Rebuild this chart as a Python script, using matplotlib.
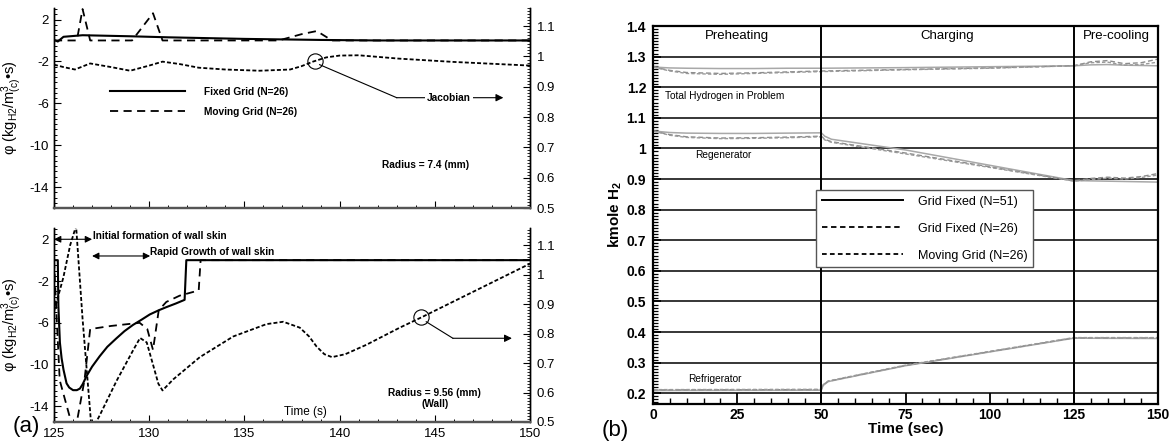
import numpy as np
import matplotlib
matplotlib.use('Agg')
import matplotlib.pyplot as plt
from matplotlib.lines import Line2D
from matplotlib.ticker import MultipleLocator, FixedLocator, FuncFormatter

plt.rcParams['font.family'] = ['Liberation Sans', 'DejaVu Sans']
plt.rcParams['mathtext.fontset'] = 'custom'
plt.rcParams['mathtext.rm'] = 'Liberation Sans'
plt.rcParams['mathtext.it'] = 'Liberation Sans:italic'
plt.rcParams['mathtext.bf'] = 'Liberation Sans:bold'
plt.rcParams['axes.unicode_minus'] = False

# ---------------- data: panel (a) top, radius 7.4 mm ----------------
top_t_fixed = [125, 125.2, 125.5, 126.5, 129, 131, 135, 139, 142, 150]
top_phi_fixed = [0.05, -0.1, 0.35, 0.5, 0.4, 0.3, 0.15, 0.05, 0.0, 0.0]
top_t_moving = [125, 126.2, 126.5, 126.9, 129.1, 130.2, 130.7, 136.8, 138.0, 138.8, 139.6, 150]
top_phi_moving = [0, 0, 3.0, 0, 0, 2.6, 0, 0, 0.6, 0.9, 0, 0]
top_t_jac = [125, 125.5, 126.1, 126.9, 128.0, 129.0, 130.0, 130.7, 131.6, 132.6, 134.0,
             135.8, 137.4, 138.0, 138.6, 139.3, 140.0, 141.0, 143.1, 146.0, 150]
top_jac = [0.973, 0.965, 0.957, 0.977, 0.965, 0.953, 0.970, 0.983, 0.975, 0.963, 0.957,
           0.953, 0.957, 0.968, 0.983, 0.997, 1.003, 1.004, 0.993, 0.982, 0.970]

# ---------------- data: panel (a) bottom, radius 9.56 mm (wall) ----------------
bot_t_fixed = [125, 125.2, 125.23, 125.31, 125.4, 125.5, 125.66, 125.8, 126.0, 126.2,
               126.36, 126.5, 126.71, 127.0, 127.4, 127.8, 128.27, 128.7, 129.15, 129.6,
               130.03, 130.5, 130.9, 131.4, 131.86, 131.95, 150]
bot_phi_fixed = [0, 0, -4.4, -7.9, -9.4, -10.5, -11.8, -12.2, -12.45, -12.45,
                 -12.3, -11.9, -11.1, -10.2, -9.2, -8.3, -7.5, -6.8, -6.2, -5.7,
                 -5.2, -4.8, -4.5, -4.15, -3.8, 0, 0]
bot_t_moving = [125, 125.1, 125.3, 125.9, 126.05, 126.2, 126.6, 126.9, 128.0, 129.5, 129.9,
                130.2, 130.5, 130.9, 131.6, 132.6, 132.7, 150]
bot_phi_moving = [0, -4, -11.5, -15.5, -16.5, -15.5, -11.5, -6.6, -6.3, -6.0, -6.6,
                  -8.6, -4.8, -4.0, -3.4, -2.9, 0, 0]
bot_t_jac = [125.0, 125.49, 125.85, 126.16, 126.5, 126.98, 127.42, 128.29, 129.17, 129.52,
             129.87, 130.22, 130.48, 130.7, 131.27, 132.66, 134.41, 136.16, 137.04, 137.91,
             138.4, 138.79, 139.2, 139.6, 140.3, 141.41, 143.16, 144.3, 150]
bot_jac = [0.875, 0.99, 1.10, 1.165, 0.85, 0.47, 0.525, 0.64, 0.745, 0.785,
           0.77, 0.69, 0.63, 0.607, 0.645, 0.72, 0.79, 0.832, 0.84, 0.82,
           0.79, 0.756, 0.73, 0.72, 0.73, 0.762, 0.82, 0.855, 1.037]

a_xticks = [125, 130, 135, 140, 145, 150]
a_yticks_left = [-14, -10, -6, -2, 2]
a_yticks_right = [0.5, 0.6, 0.7, 0.8, 0.9, 1.0, 1.1]

# ---------------- data: panel (b) ----------------
th_t = [0, 5, 10, 20, 30, 40, 50, 75, 100, 125, 130, 135, 140, 145, 150]
th_fixed51 = [1.266, 1.263, 1.262, 1.261, 1.261, 1.262, 1.262, 1.264, 1.267, 1.270,
              1.273, 1.274, 1.272, 1.271, 1.270]
th_fixed26 = [1.266, 1.255, 1.248, 1.245, 1.247, 1.250, 1.253, 1.258, 1.263, 1.270,
              1.283, 1.287, 1.277, 1.280, 1.292]
th_moving26 = [1.266, 1.253, 1.245, 1.242, 1.245, 1.248, 1.251, 1.257, 1.262, 1.270,
               1.280, 1.282, 1.272, 1.274, 1.282]

reg_t = [0, 5, 10, 20, 30, 40, 50, 51, 53, 75, 100, 125, 130, 135, 140, 145, 150]
reg_fixed51 = [1.057, 1.052, 1.050, 1.049, 1.049, 1.050, 1.051, 1.040, 1.030, 0.995,
               0.945, 0.895, 0.894, 0.893, 0.892, 0.891, 0.890]
reg_fixed26 = [1.057, 1.045, 1.038, 1.034, 1.035, 1.037, 1.040, 1.030, 1.022, 0.985,
               0.940, 0.894, 0.902, 0.906, 0.903, 0.908, 0.918]
reg_moving26 = [1.057, 1.043, 1.036, 1.032, 1.033, 1.035, 1.038, 1.028, 1.020, 0.982,
                0.938, 0.893, 0.898, 0.903, 0.900, 0.905, 0.913]

ref_t = [0, 50, 50.5, 52, 55, 75, 100, 125, 150]
ref_fixed51 = [0.209, 0.210, 0.225, 0.238, 0.245, 0.290, 0.335, 0.380, 0.379]
ref_fixed26 = [0.211, 0.212, 0.227, 0.239, 0.246, 0.291, 0.336, 0.381, 0.381]
ref_moving26 = [0.212, 0.213, 0.228, 0.240, 0.247, 0.292, 0.337, 0.382, 0.382]

b_xticks = [0, 25, 50, 75, 100, 125, 150]
b_yticks = [0.2, 0.3, 0.4, 0.5, 0.6, 0.7, 0.8, 0.9, 1.0, 1.1, 1.2, 1.3, 1.4]
phase_bounds = [50, 125]
phase_names = ['Preheating', 'Charging', 'Pre-cooling']
phase_centers = [25, 87.5, 137.5]
b_legend_labels = ['Grid Fixed (N=51)', 'Grid Fixed (N=26)', 'Moving Grid (N=26)']

# ---------------- figure ----------------
W, H = 1171, 444
fig = plt.figure(figsize=(W / 100, H / 100), dpi=100)


def box(l, t, r, b):
    return [l / W, 1 - b / H, (r - l) / W, (b - t) / H]


fmt_g = FuncFormatter(lambda v, p: f'{round(v, 3):g}')

SOLID = dict(color='black', lw=1.5)
DASH = dict(color='black', lw=1.3, dashes=(4.5, 3))
DOT = dict(color='black', lw=1.3, dashes=(2.2, 1.2))


def style_a(ax, axj, ylim_l, ylim_r, show_xlabels):
    ax.set_xlim(125, 150)
    ax.set_ylim(*ylim_l)
    axj.set_ylim(*ylim_r)
    ax.xaxis.set_major_locator(FixedLocator(a_xticks))
    ax.xaxis.set_minor_locator(MultipleLocator(1))
    ax.yaxis.set_major_locator(FixedLocator(a_yticks_left))
    ax.yaxis.set_minor_locator(MultipleLocator(0.5))
    ax.yaxis.set_major_formatter(fmt_g)
    axj.yaxis.set_major_locator(FixedLocator(a_yticks_right))
    axj.yaxis.set_minor_locator(MultipleLocator(0.01))
    axj.yaxis.set_major_formatter(fmt_g)
    ax.tick_params(axis='both', which='both', direction='in', top=False, right=False,
                   labelsize=9.5)
    ax.tick_params(axis='both', which='major', length=5, width=0.8)
    ax.tick_params(axis='both', which='minor', length=2.5, width=0.7)
    ax.tick_params(axis='x', labelbottom=show_xlabels, pad=4)
    axj.tick_params(axis='y', which='both', direction='in', labelsize=9.5, pad=5)
    axj.tick_params(axis='y', which='major', length=5, width=0.8)
    axj.tick_params(axis='y', which='minor', length=2.5, width=0.6)
    for a in (ax, axj):
        a.spines['top'].set_visible(False)
        a.spines['left'].set_linewidth(1.0)
        a.spines['right'].set_linewidth(1.0)
        a.spines['bottom'].set_linewidth(1.6)
        a.spines['bottom'].set_color('#555555')
    ax.set_ylabel('φ (kg$_{\\rm H2}$/m$^{3}_{\\rm (c)}$•s)', fontsize=10.5, labelpad=4)
    ax.patch.set_visible(False)


# ---- top-left panel ----
ax1 = fig.add_axes(box(54, 8, 530, 208))
ax1j = ax1.twinx()
ax1.plot(top_t_fixed, top_phi_fixed, label='Fixed Grid (N=26)', **SOLID)
ax1.plot(top_t_moving, top_phi_moving, label='Moving Grid (N=26)', **DASH)
ax1j.plot(top_t_jac, top_jac, **DOT)
style_a(ax1, ax1j, (-16, 3.1), (0.5, 1.16), False)
ax1.legend(loc='upper left', bbox_to_anchor=(0.118, 0.605), frameon=False,
           handlelength=7.4, handletextpad=1.9, labelspacing=0.95, borderpad=0,
           borderaxespad=0, prop=dict(size=7.3, weight='bold'))
ax1.text(144.5, -11.9, 'Radius = 7.4 (mm)', fontsize=7.3, fontweight='bold',
         ha='center', va='center')
# Jacobian annotation
c1_t = 138.7
c1_v = float(np.interp(c1_t, top_t_jac, top_jac))
ax1j.plot([c1_t], [c1_v], marker='o', ms=11, mfc='none', mec='black', mew=0.8)
elbow1 = (143.0, 0.864)
ax1j.plot([c1_t + 0.25, elbow1[0]], [c1_v - 0.012, elbow1[1]], color='black', lw=0.8)
ax1j.annotate('', xy=(148.6, elbow1[1]), xytext=elbow1,
              arrowprops=dict(arrowstyle='-|>', color='black', lw=0.8,
                              mutation_scale=11, shrinkA=0, shrinkB=0))
ax1j.text(145.75, elbow1[1], 'Jacobian', fontsize=7.3, fontweight='bold',
          ha='center', va='center',
          bbox=dict(facecolor='white', edgecolor='none', pad=1.5))

# ---- bottom-left panel ----
ax2 = fig.add_axes(box(54, 228, 530, 422))
ax2j = ax2.twinx()
ax2.plot(bot_t_fixed, bot_phi_fixed, **SOLID)
ax2.plot(bot_t_moving, bot_phi_moving, **DASH)
ax2j.plot(bot_t_jac, bot_jac, **DOT)
style_a(ax2, ax2j, (-15.5, 3.08), (0.5, 1.158), True)
ax2.text(138.2, -14.5, 'Time (s)', fontsize=8.5, ha='center', va='center')
ax2.text(145.0, -12.7, 'Radius = 9.56 (mm)', fontsize=7.3, fontweight='bold',
         ha='center', va='center')
ax2.text(145.0, -13.75, '(Wall)', fontsize=7.3, fontweight='bold',
         ha='center', va='center')
ax2.annotate('', xy=(125.0, 2.0), xytext=(127.0, 2.0),
             arrowprops=dict(arrowstyle='<|-|>', color='black', lw=0.8,
                             mutation_scale=10, shrinkA=0, shrinkB=0))
ax2.text(127.05, 2.35, 'Initial formation of wall skin', fontsize=7.3,
         fontweight='bold', ha='left', va='center')
ax2.annotate('', xy=(127.0, 0.4), xytext=(130.05, 0.4),
             arrowprops=dict(arrowstyle='<|-|>', color='black', lw=0.8,
                             mutation_scale=10, shrinkA=0, shrinkB=0))
ax2.text(130.05, 0.75, 'Rapid Growth of wall skin', fontsize=7.3,
         fontweight='bold', ha='left', va='center')
c2_t = 144.3
c2_v = float(np.interp(c2_t, bot_t_jac, bot_jac))
ax2j.plot([c2_t], [c2_v], marker='o', ms=11, mfc='none', mec='black', mew=0.8)
elbow2 = (145.95, 0.784)
ax2j.plot([c2_t + 0.25, elbow2[0]], [c2_v - 0.015, elbow2[1]], color='black', lw=0.8)
ax2j.annotate('', xy=(149.05, elbow2[1]), xytext=elbow2,
              arrowprops=dict(arrowstyle='-|>', color='black', lw=0.8,
                              mutation_scale=11, shrinkA=0, shrinkB=0))

# ---- right panel (b) ----
ax3 = fig.add_axes(box(653, 26, 1158, 404))
g_solid = dict(color='#a8a8a8', lw=1.1)
g_dash = dict(color='#8c8c8c', lw=1.0, dashes=(3.5, 2))
g_dash2 = dict(color='#9a9a9a', lw=1.0, dashes=(2.5, 1.5))
for tt, a, b, c in [(th_t, th_fixed51, th_fixed26, th_moving26),
                    (reg_t, reg_fixed51, reg_fixed26, reg_moving26),
                    (ref_t, ref_fixed51, ref_fixed26, ref_moving26)]:
    ax3.plot(tt, a, **g_solid)
    ax3.plot(tt, b, **g_dash)
    ax3.plot(tt, c, **g_dash2)
ax3.set_xlim(0, 150)
ax3.set_ylim(0.165, 1.4)
ax3.set_xticks(b_xticks, labels=[str(v) for v in b_xticks], fontweight='bold')
ax3.set_yticks(b_yticks, labels=[f'{v:g}' for v in b_yticks], fontweight='bold')
ax3.xaxis.set_minor_locator(MultipleLocator(5))
ax3.yaxis.set_minor_locator(MultipleLocator(0.01))
ax3.tick_params(axis='both', which='both', direction='in', top=False, right=False,
                labelsize=10)
ax3.tick_params(axis='x', which='major', length=8, width=1.3, pad=3)
ax3.tick_params(axis='x', which='minor', length=4, width=1.0)
ax3.tick_params(axis='y', which='major', length=6, width=1.2, pad=5)
ax3.tick_params(axis='y', which='minor', length=3.5, width=0.9)
ax3.grid(axis='y', which='major', color='black', lw=1.1)
for x in phase_bounds:
    ax3.axvline(x, color='black', lw=1.4)
for s in ax3.spines.values():
    s.set_linewidth(1.6)
for name, xc in zip(phase_names, phase_centers):
    ax3.text(xc, 1.368, name, fontsize=9.5, ha='center', va='center')
ax3.text(3.6, 1.171, 'Total Hydrogen in Problem', fontsize=7.3, ha='left', va='center')
ax3.text(20.8, 0.978, 'Regenerator', fontsize=7.3, ha='center', va='center')
ax3.text(18.5, 0.247, 'Refrigerator', fontsize=7.3, ha='center', va='center')
ax3.set_xlabel('Time (sec)', fontsize=11, fontweight='bold', labelpad=0)
ax3.set_ylabel('kmole H$_{\\mathbf{2}}$', fontsize=11, fontweight='bold', labelpad=2)
handles = [Line2D([], [], color='black', lw=1.4),
           Line2D([], [], color='black', lw=1.3, dashes=(3, 2)),
           Line2D([], [], color='black', lw=1.3, dashes=(2.6, 1.8))]
leg = ax3.legend(handles, b_legend_labels, loc='upper left',
                 bbox_to_anchor=(0.323, 0.566), fontsize=9, handlelength=6.5,
                 handletextpad=1.2, labelspacing=1.2, borderpad=0.45,
                 borderaxespad=0, fancybox=False, framealpha=1)
leg.get_frame().set_edgecolor('#555555')
leg.get_frame().set_linewidth(1.0)

fig.text(26 / W, 1 - 426 / H, '(a)', fontsize=16, ha='center', va='center')
fig.text(615 / W, 1 - 430 / H, '(b)', fontsize=16, ha='center', va='center')

fig.savefig('out.png', dpi=100)
